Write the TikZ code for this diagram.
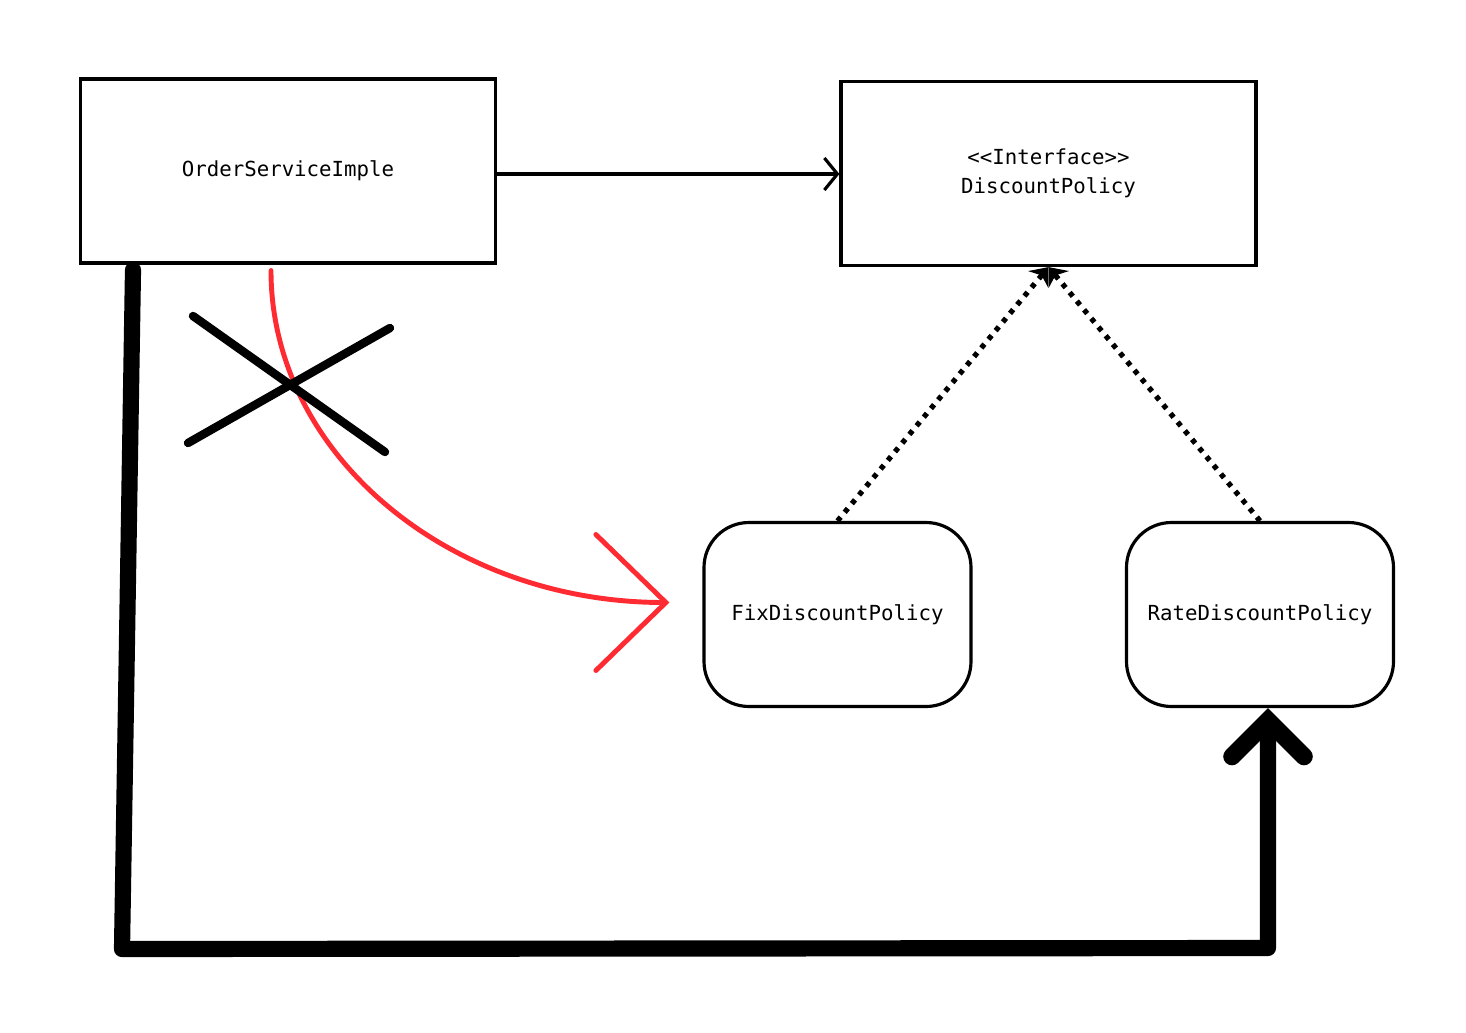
\documentclass[tikz,border=0pt]{standalone}
\usepackage{fontspec}
\newfontfamily\boxfont{DejaVu Sans Mono}
\usetikzlibrary{calc}
\usetikzlibrary{arrows.meta}
\definecolor{penred}{HTML}{FF2B33}
\tikzset{
 classbox/.style={draw=black, line width=0.9pt, minimum width=4.15cm, minimum height=1.84cm, inner sep=0pt, align=center, font=\boxfont\fontsize{5.9}{8.2}\selectfont},
 implbox/.style={classbox, rounded corners=0.45cm, minimum width=2.67cm},
}
\begin{document}
\begin{tikzpicture}
\useasboundingbox (0,0) rectangle (14.66,10.32);
\node[classbox] (order) at (2.88,8.61) {OrderServiceImple};
\node[classbox] (iface) at (10.485,8.585) {<<Interface>>\\DiscountPolicy};
\node[implbox] (fix) at (8.375,4.175) {FixDiscountPolicy};
\node[implbox] (rate) at (12.6,4.175) {RateDiscountPolicy};
\draw[black, line width=0.9pt, -{Straight Barb[length=1.3mm,width=3.2mm]}] ($(order.east)+(0,-0.03)$) -- ($(order.east -| iface.west)+(0,-0.03)$);
\foreach \impl in {fix, rate} {
 \draw[black, line width=1.5pt, dash pattern=on 1.4pt off 1.8pt, -{Stealth[length=1.6mm,width=2.6mm]}] (\impl.north) -- (iface.south);
}
% red curve, crossed out
\draw[penred, line width=1.4pt, line cap=round, -{Straight Barb[length=7mm,width=13.6mm,line cap=round]}]
 ($(order.south)+(-0.17,-0.06)$) .. controls ($(order.south)+(-0.17,-1.9)$) and ($(fix.west)+(-2.53,0.12)$) .. ($(fix.west)+(-0.33,0.12)$);
\draw[black, line width=2.4pt, line cap=round] (1.93,7.16) -- (3.85,5.80);
\draw[black, line width=2.4pt, line cap=round] (1.88,5.89) -- (3.90,7.04);
% thick way round
\coordinate (start) at (1.33,7.62);
\coordinate (low left) at (1.22,0.83);
\coordinate (low right) at (12.68,0.84);
\draw[black, line width=4.6pt, line cap=round, line join=round, -{Straight Barb[length=3.6mm,width=7.2mm,line width=5pt,line cap=round]}]
 (start) -- (low left) -- (low right) -- ($(rate.south)+(0.08,0)$);
\end{tikzpicture}
\end{document}
